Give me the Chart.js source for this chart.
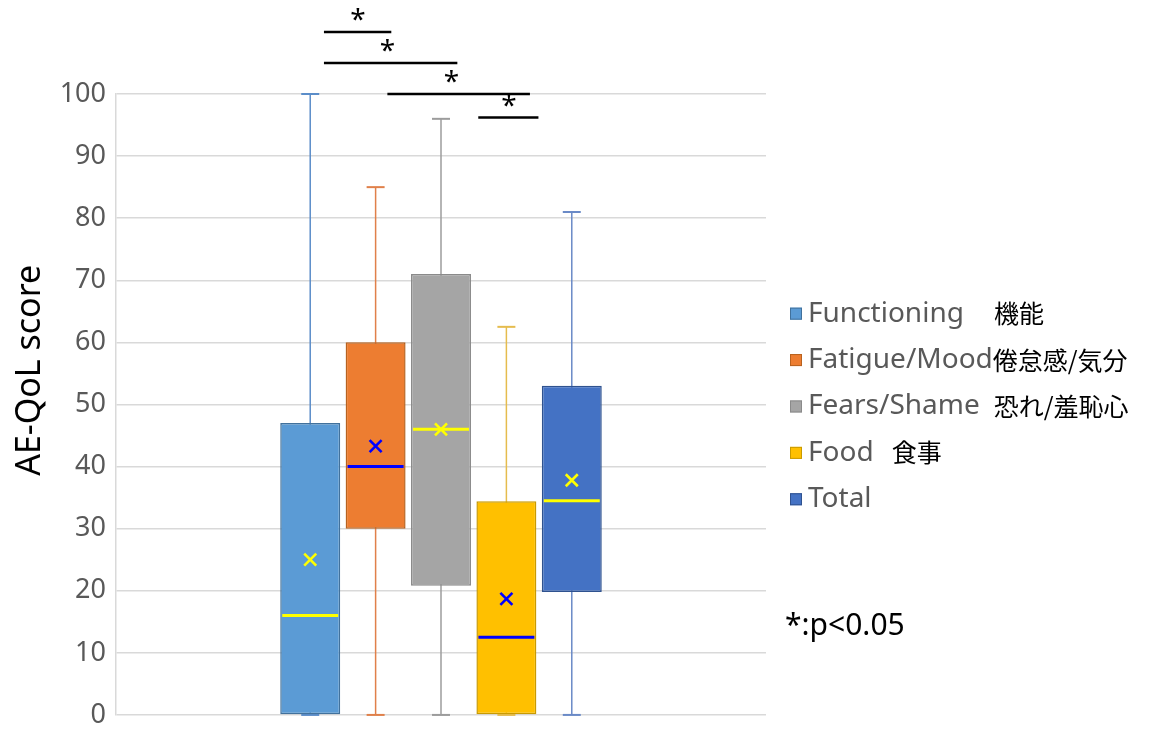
<!DOCTYPE html>
<html>
<head>
<meta charset="utf-8">
<script src="https://cdn.jsdelivr.net/npm/chart.js"></script>
<style>
  html, body { margin: 0; padding: 0; background: #fff; }
  #wrap { width: 1149px; height: 731px; position: relative; }
</style>
</head>
<body>
<div id="wrap"><canvas id="myChart"></canvas></div>
<script>
const groups = ['AE-QoL'];
const seriesNames = ['Functioning', 'Fatigue/Mood', 'Fears/Shame', 'Food', 'Total'];
const seriesNamesJa = ['機能', '倦怠感/気分', '恐れ/羞恥心', '食事', ''];
const minValues = [0, 0, 0, 0, 0];
const q1Values = [0, 30, 20.8, 0, 19.8];
const medianValues = [16, 40, 46, 12.5, 34.5];
const q3Values = [47, 60, 71, 34.4, 53];
const maxValues = [100, 85, 96, 62.5, 81];
const meanValues = [25, 43.3, 46, 18.7, 37.8];
const yTicks = [0, 10, 20, 30, 40, 50, 60, 70, 80, 90, 100];
const yTitle = 'AE-QoL score';

// significance brackets (positions in box index units, level in score units)
const sigFrom = [0.21, 0.21, 1.18, 2.57];
const sigTo = [1.24, 2.25, 3.36, 3.49];
const sigLevel = [110, 105, 100, 96.2];
const sigStarAt = [0.73, 1.18, 2.16, 3.04];
const noteText = '*:p<0.05';

const fillColors = ['#5B9BD5', '#ED7D31', '#A5A5A5', '#FFC000', '#4472C4'];
const borderColors = ['#41719C', '#B8621F', '#8A8A8A', '#C99A00', '#2F528F'];
const whiskerColors = ['#5B8DC9', '#E0804A', '#9C9C9C', '#E5BC4E', '#6A8AC7'];
const markColors = ['#FFFF00', '#0000FF', '#FFFF00', '#0000FF', '#FFFF00'];
const jaGaps = [30, 0, 14, 18, 0];

const datasets = seriesNames.map(function(name, i) {
  return {
    label: name,
    data: [[q1Values[i], q3Values[i]]],
    backgroundColor: fillColors[i],
    borderColor: borderColors[i],
    borderWidth: 1.5,
    borderSkipped: false,
    categoryPercentage: 0.503,
    barPercentage: 0.917
  };
});

function boxCenter(chart, f) {
  const c0 = chart.getDatasetMeta(0).data[0].x;
  const c1 = chart.getDatasetMeta(1).data[0].x;
  return c0 + f * (c1 - c0);
}

const boxExtras = {
  id: 'boxExtras',
  beforeDatasetsDraw(chart) {
    const ctx = chart.ctx;
    const y = chart.scales.y;
    ctx.save();
    for (let i = 0; i < seriesNames.length; i++) {
      const bar = chart.getDatasetMeta(i).data[0];
      const capW = bar.width * 0.3;
      ctx.strokeStyle = whiskerColors[i];
      ctx.lineWidth = 1.5;
      ctx.beginPath();
      ctx.moveTo(bar.x, y.getPixelForValue(minValues[i]));
      ctx.lineTo(bar.x, y.getPixelForValue(maxValues[i]));
      ctx.stroke();
      ctx.lineWidth = 2;
      [minValues[i], maxValues[i]].forEach(function(v) {
        const py = y.getPixelForValue(v);
        ctx.beginPath();
        ctx.moveTo(bar.x - capW / 2, py);
        ctx.lineTo(bar.x + capW / 2, py);
        ctx.stroke();
      });
    }
    ctx.restore();
  },
  afterDatasetsDraw(chart) {
    const ctx = chart.ctx;
    const y = chart.scales.y;
    ctx.save();
    for (let i = 0; i < seriesNames.length; i++) {
      const bar = chart.getDatasetMeta(i).data[0];
      const half = bar.width / 2 - 2;
      const my = y.getPixelForValue(medianValues[i]);
      ctx.strokeStyle = markColors[i];
      ctx.lineWidth = 3;
      ctx.beginPath();
      ctx.moveTo(bar.x - half, my);
      ctx.lineTo(bar.x + half, my);
      ctx.stroke();
      const ay = y.getPixelForValue(meanValues[i]);
      const r = 6;
      ctx.lineWidth = 2.6;
      ctx.beginPath();
      ctx.moveTo(bar.x - r, ay - r);
      ctx.lineTo(bar.x + r, ay + r);
      ctx.moveTo(bar.x + r, ay - r);
      ctx.lineTo(bar.x - r, ay + r);
      ctx.stroke();
    }
    ctx.restore();
  },
  afterDraw(chart) {
    const ctx = chart.ctx;
    const y = chart.scales.y;
    const area = chart.chartArea;
    ctx.save();
    // significance brackets
    ctx.strokeStyle = '#000';
    ctx.fillStyle = '#000';
    ctx.lineWidth = 2.5;
    ctx.font = '28px "Noto Sans"';
    ctx.textAlign = 'center';
    ctx.textBaseline = 'middle';
    for (let k = 0; k < sigLevel.length; k++) {
      const py = y.getPixelForValue(sigLevel[k]);
      ctx.beginPath();
      ctx.moveTo(boxCenter(chart, sigFrom[k]), py);
      ctx.lineTo(boxCenter(chart, sigTo[k]), py);
      ctx.stroke();
      ctx.fillText('*', boxCenter(chart, sigStarAt[k]), py - 11);
    }
    // y axis title
    ctx.save();
    ctx.translate(30, y.getPixelForValue(55.5));
    ctx.rotate(-Math.PI / 2);
    ctx.font = '34px "Noto Sans"';
    ctx.fillStyle = '#000';
    ctx.fillText(yTitle, 0, 0);
    ctx.restore();
    // legend
    const midY = (area.top + area.bottom) / 2;
    const lx = area.right + 24;
    ctx.textAlign = 'left';
    for (let i = 0; i < seriesNames.length; i++) {
      const ry = midY + 2 + (i - 2) * 46.4;
      ctx.fillStyle = fillColors[i];
      ctx.fillRect(lx, ry - 6, 12, 12);
      ctx.strokeStyle = borderColors[i];
      ctx.lineWidth = 1;
      ctx.strokeRect(lx + 0.5, ry - 5.5, 11, 11);
      ctx.font = '28px "Noto Sans"';
      ctx.fillStyle = '#595959';
      ctx.fillText(seriesNames[i], lx + 18, ry);
      const tw = ctx.measureText(seriesNames[i]).width;
      ctx.font = '25px "Noto Sans CJK JP"';
      ctx.fillStyle = '#000';
      ctx.fillText(seriesNamesJa[i], lx + 18 + tw + jaGaps[i], ry);
    }
    // note
    ctx.font = '30px "Noto Sans"';
    ctx.fillStyle = '#000';
    ctx.fillText(noteText, area.right + 19, y.getPixelForValue(14.2));
    ctx.restore();
  }
};

const ctx = document.getElementById('myChart').getContext('2d');
const myChart = new Chart(ctx, {
  type: 'bar',
  data: {
    labels: groups,
    datasets: datasets
  },
  options: {
    responsive: true,
    maintainAspectRatio: false,
    animation: false,
    layout: {
      padding: { top: 94, right: 383, bottom: 5, left: 0 }
    },
    plugins: {
      legend: { display: false },
      tooltip: { enabled: false }
    },
    scales: {
      x: {
        display: false
      },
      y: {
        min: 0,
        max: 100,
        afterBuildTicks: function(scale) {
          scale.ticks = yTicks.map(function(v) { return { value: v }; });
        },
        afterFit: function(scale) {
          scale.width = 116;
        },
        ticks: {
          color: '#595959',
          font: { family: 'Noto Sans', size: 27, lineHeight: 0.45 },
          padding: 10
        },
        grid: {
          color: '#D9D9D9',
          lineWidth: 1.5,
          drawTicks: false
        },
        border: { color: '#D9D9D9', width: 1.5 }
      }
    }
  },
  plugins: [boxExtras]
});
</script>
</body>
</html>
